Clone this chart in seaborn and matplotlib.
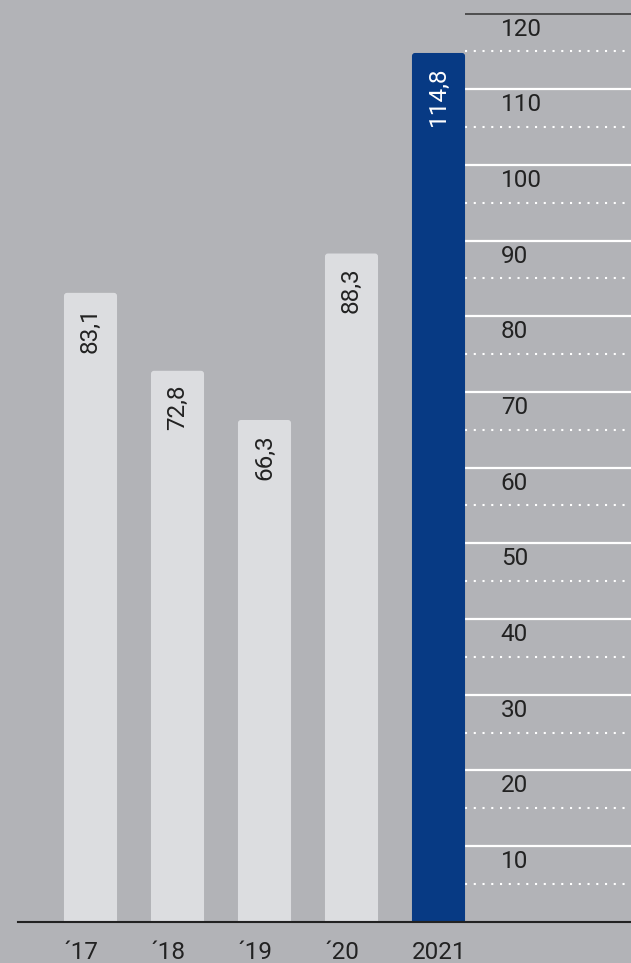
import matplotlib
matplotlib.use("Agg")
import matplotlib.pyplot as plt
from matplotlib.patches import FancyBboxPatch
import seaborn as sns

# chart data
years = ["´17", "´18", "´19", "´20", "2021"]
values = [83.1, 72.8, 66.3, 88.3, 114.8]
value_labels = ["83,1", "72,8", "66,3", "88,3", "114,8"]
grid_major = [10, 20, 30, 40, 50, 60, 70, 80, 90, 100, 110]
grid_minor = [5, 15, 25, 35, 45, 55, 65, 75, 85, 95, 105, 115]
top_line = 120
tick_labels = ["10", "20", "30", "40", "50", "60", "70", "80", "90", "100", "110", "120"]

bg = "#b2b3b7"
light = "#dcdde0"
blue = "#073a84"
dark = "#222222"
bar_colors = [light, light, light, light, blue]
bar_w = 0.61

sns.set_style("white", rc={"figure.facecolor": bg, "axes.facecolor": bg})
plt.rcParams["font.family"] = ["Roboto", "DejaVu Sans"]

W, H = 631, 963
fig = plt.figure(figsize=(W / 100, H / 100), dpi=100)
ax = fig.add_axes([18 / W, 41.3 / H, 613 / W, 921.7 / H])

sns.barplot(x=years, y=values, hue=years, palette=bar_colors, width=bar_w,
            saturation=1, legend=False, ax=ax)

ax.set_xlim(-0.8333, 6.2126)
ax.set_ylim(0, 121.8)

# rounded tops on bars
for p in list(ax.patches):
    x0, w, h = p.get_x(), p.get_width(), p.get_height()
    fb = FancyBboxPatch((x0, -2), w, h + 2,
                        boxstyle="round,pad=0,rounding_size=0.035",
                        mutation_aspect=11.5, facecolor=p.get_facecolor(),
                        edgecolor="none", zorder=2, clip_on=True)
    p.set_visible(False)
    ax.add_patch(fb)

# gridlines right of the last bar
x_start = len(values) - 1 + bar_w / 2
x_end = ax.get_xlim()[1]
ax.hlines(grid_major, x_start, x_end, colors="white", lw=1.6, zorder=1)
ax.hlines(grid_minor, x_start, x_end, colors="white", lw=1.5,
          linestyles=(0, (1, 3.2)), zorder=1)
ax.hlines([top_line], x_start, x_end, colors="#333333", lw=1.1, zorder=1)

for v, t in zip(grid_major + [top_line], tick_labels):
    ax.text(x_start + 0.41, v - 2.9, t, ha="left", va="baseline",
            fontsize=17.5, color=dark)

# value labels inside the bars
for i, (v, lab) in enumerate(zip(values, value_labels)):
    col = "white" if i == len(values) - 1 else dark
    ax.annotate(lab, (i, v), xytext=(0, -14), textcoords="offset pixels",
                rotation=90, ha="center", va="top", fontsize=17.5, color=col,
                zorder=3)

# year labels under the baseline
for i, y in enumerate(years):
    ax.text(i - bar_w / 2, -4.94, y, ha="left", va="baseline", fontsize=17.5,
            color=dark, clip_on=False)

sns.despine(ax=ax, left=True, top=True, right=True)
ax.spines["bottom"].set_color(dark)
ax.spines["bottom"].set_linewidth(1.5)
ax.set_xticks([])
ax.set_yticks([])
ax.set_xlabel("")
ax.set_ylabel("")

fig.savefig("out.png", dpi=100, facecolor=bg)
